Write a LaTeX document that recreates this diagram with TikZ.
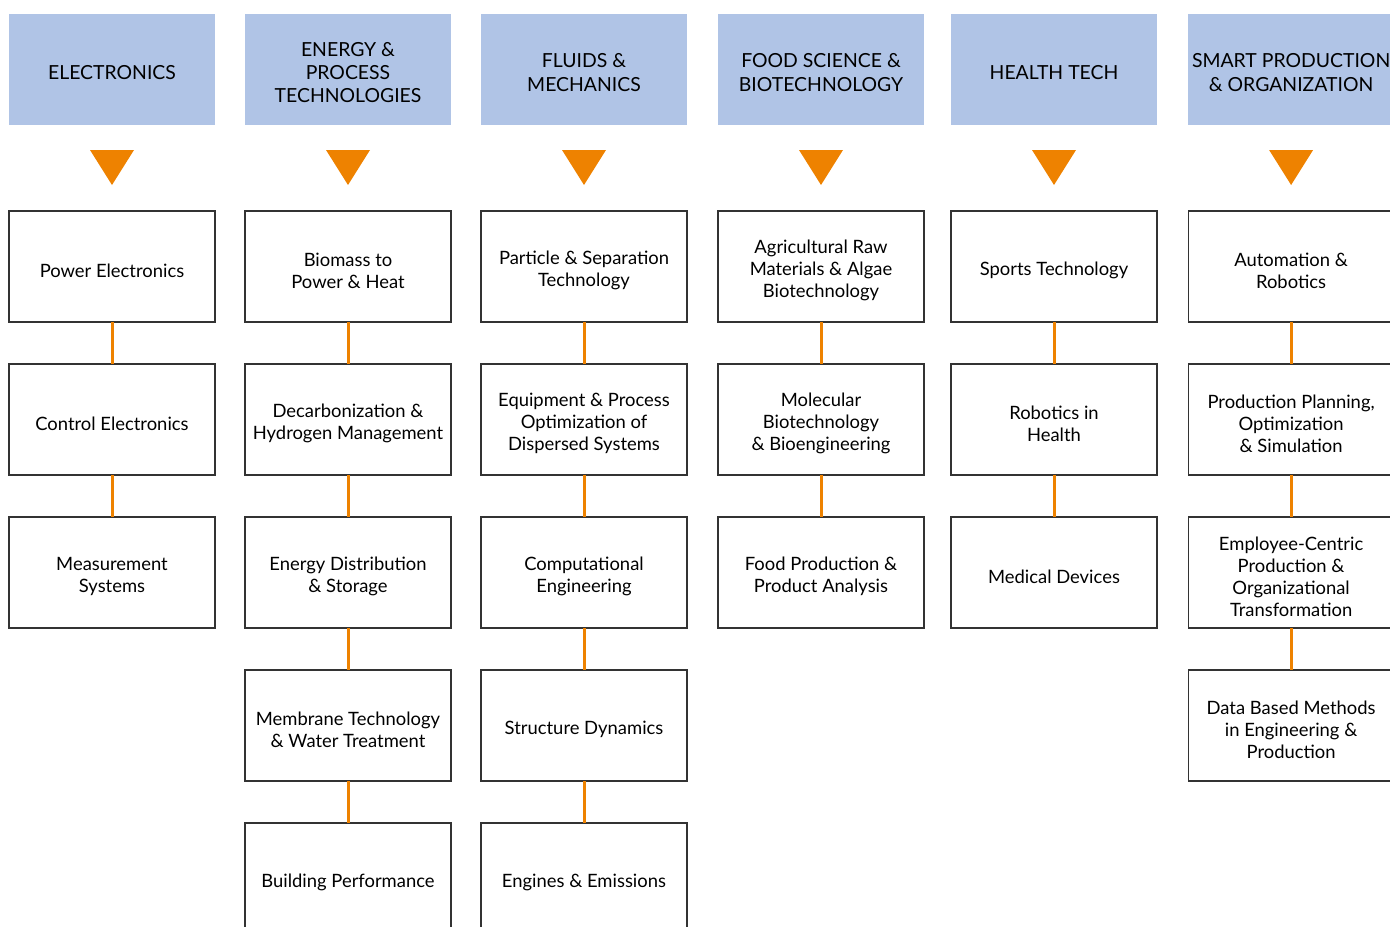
\documentclass[tikz,border=0pt]{standalone}
\usepackage{fontspec}
\setmainfont{Lato}
\usetikzlibrary{positioning, calc}
\definecolor{headblue}{HTML}{B0C4E6}
\definecolor{fieldorange}{HTML}{EE8200}
\definecolor{boxgray}{HTML}{333333}

\begin{document}
\begin{tikzpicture}
	\tikzset{node distance=21pt, every node/.style={align=center, minimum width=103pt, minimum height=55.5pt, inner sep=2pt, outer sep=0pt},
		head/.style={fill=headblue, execute at begin node={\vbox\bgroup\kern3pt\hbox\bgroup}, execute at end node={\egroup\egroup}, font=\fontsize{9.7}{11.7}\selectfont},
		field/.style={draw=boxgray, line width=0.6pt, fill=white, execute at begin node={\vbox\bgroup\kern4pt\hbox\bgroup}, execute at end node={\egroup\egroup}, font=\fontsize{9.2}{11}\selectfont},
		link/.style={draw=fieldorange, line width=1.5pt},
		marker/.style={fill=fieldorange}}
	\clip (0,0) rectangle (695pt,-463pt);

	% headers
	\node[head, anchor=north west] (elec) at (4.5pt,-7pt) {ELECTRONICS};
	\node[head, anchor=north west] (energy) at (122.5pt,-7pt) {ENERGY \&\\PROCESS\\TECHNOLOGIES};
	\node[head, anchor=north west] (fluid) at (240.5pt,-7pt) {FLUIDS \&\\MECHANICS};
	\node[head, anchor=north west] (food) at (359pt,-7pt) {FOOD SCIENCE \&\\BIOTECHNOLOGY};
	\node[head, anchor=north west] (health) at (475.5pt,-7pt) {HEALTH TECH};
	\node[head, anchor=north west] (smart) at (594pt,-7pt) {SMART PRODUCTION\\\& ORGANIZATION};

	\foreach \h in {elec, energy, fluid, food, health, smart}
		\fill[marker] ($(\h.south)+(-11pt,-12.5pt)$) -- ++(22pt,0) -- ++(-11pt,-17.5pt) -- cycle;

	% electronics
	\node[field, below=43pt of elec] (elec1) {Power Electronics};
	\node[field, below=of elec1] (elec2) {Control Electronics};
	\node[field, below=of elec2] (elec3) {Measurement\\Systems};

	% energy
	\node[field, below=43pt of energy] (energy1) {Biomass to\\Power \& Heat};
	\node[field, below=of energy1] (energy2) {Decarbonization \&\\Hydrogen Management};
	\node[field, below=of energy2] (energy3) {Energy Distribution\\\& Storage};
	\node[field, below=of energy3] (energy4) {Membrane Technology\\\& Water Treatment};
	\node[field, below=of energy4] (energy5) {Building Performance};

	% fluids
	\node[field, below=43pt of fluid] (fluid1) {Particle \& Separation\\Technology};
	\node[field, below=of fluid1] (fluid2) {Equipment \& Process\\Optimization of\\Dispersed Systems};
	\node[field, below=of fluid2] (fluid3) {Computational\\Engineering};
	\node[field, below=of fluid3] (fluid4) {Structure Dynamics};
	\node[field, below=of fluid4] (fluid5) {Engines \& Emissions};

	% food
	\node[field, below=43pt of food] (food1) {Agricultural Raw\\Materials \& Algae\\Biotechnology};
	\node[field, below=of food1] (food2) {Molecular\\Biotechnology\\\& Bioengineering};
	\node[field, below=of food2] (food3) {Food Production \&\\Product Analysis};

	% health
	\node[field, below=43pt of health] (health1) {Sports Technology};
	\node[field, below=of health1] (health2) {Robotics in\\Health};
	\node[field, below=of health2] (health3) {Medical Devices};

	% smart production
	\node[field, below=43pt of smart] (smart1) {Automation \&\\Robotics};
	\node[field, below=of smart1] (smart2) {Production Planning,\\Optimization\\\& Simulation};
	\node[field, below=of smart2] (smart3) {Employee-Centric\\Production \&\\Organizational\\Transformation};
	\node[field, below=of smart3] (smart4) {Data Based Methods\\in Engineering \&\\Production};

	\draw[link]
		(elec1) -- (elec2) (elec2) -- (elec3)
		(energy1) -- (energy2) (energy2) -- (energy3) (energy3) -- (energy4) (energy4) -- (energy5)
		(fluid1) -- (fluid2) (fluid2) -- (fluid3) (fluid3) -- (fluid4) (fluid4) -- (fluid5)
		(food1) -- (food2) (food2) -- (food3)
		(health1) -- (health2) (health2) -- (health3)
		(smart1) -- (smart2) (smart2) -- (smart3) (smart3) -- (smart4);
\end{tikzpicture}
\end{document}
